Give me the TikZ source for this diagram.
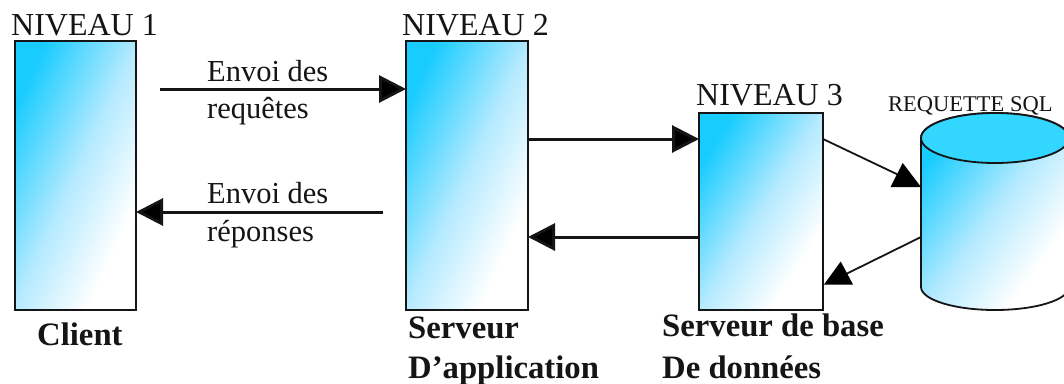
\documentclass[tikz,border=0pt]{standalone}
\usepackage{fontspec}
\setmainfont{Liberation Serif}
\usetikzlibrary{arrows.meta}
\definecolor{gblue}{HTML}{18CCFF}
\definecolor{gmid}{HTML}{B5EAFF}
\definecolor{gtop}{HTML}{33D6FF}
\definecolor{ink}{HTML}{151515}
\pgfdeclareverticalshading{diagblue}{100bp}{color(0bp)=(white); color(30bp)=(white); color(50bp)=(gmid); color(75bp)=(gblue); color(100bp)=(gblue)}
\tikzset{
  tier/.style={draw=ink,line width=1.8pt,inner sep=0pt,outer sep=0pt,anchor=north west,shading=diagblue},
  niv/.style={inner sep=0pt,anchor=base west,text=ink,font=\fontsize{32}{32}\selectfont},
  txt/.style={inner sep=0pt,anchor=base west,text=ink,font=\fontsize{30.5}{30.5}\selectfont},
  small/.style={inner sep=0pt,anchor=base west,text=ink,font=\fontsize{22.5}{22.5}\selectfont},
  lab/.style={inner sep=0pt,anchor=base west,text=ink,font=\fontsize{32.7}{32.7}\selectfont\bfseries},
  conn/.style={draw=ink,line width=3pt,-{Triangle[length=27pt,width=27pt,fill=black]}},
  thin conn/.style={draw=ink,line width=1.8pt},
  head/.style={fill=black,draw=none}
}
\begin{document}
\begin{tikzpicture}[x=1pt,y=-1pt]
\useasboundingbox (0,0) rectangle (1064,383);
\clip (0,0) rectangle (1064,383);
\fill[white] (0,0) rectangle (1064,383);
% tiers
\node[tier,minimum width=121pt,minimum height=269pt,shading angle=65] (b1) at (15,41) {};
\node[tier,minimum width=122pt,minimum height=269pt,shading angle=65] (b2) at (406,41) {};
\node[tier,minimum width=124pt,minimum height=197pt,shading angle=58] (b3) at (699,113) {};
% database
\path[shading=diagblue,shading angle=54,draw=ink,line width=1.8pt]
  (921,138) -- (921,287) arc[start angle=180,end angle=0,x radius=74,y radius=23]
  -- (1069,138) arc[start angle=0,end angle=-180,x radius=74,y radius=25] -- cycle;
\draw[ink,line width=1.8pt,fill=gtop] (995,138) ellipse[x radius=74,y radius=25];
% labels
\node[niv] (n1) at (11,35) {NIVEAU 1};
\node[niv] (n2) at (402,35) {NIVEAU 2};
\node[niv] (n3) at (696,105) {NIVEAU 3};
\node[small] (sql) at (888,111) {REQUETTE SQL};
\node[txt] (e1) at (207,81) {Envoi des};
\node[txt] (e2) at (207,118) {requêtes};
\node[txt] (e3) at (207,203) {Envoi des};
\node[txt] (e4) at (207,241) {réponses};
\node[lab] (c1) at (37,345) {Client};
\node[lab] (c2) at (408,338) {Serveur};
\node[lab] (c3) at (408,378) {D’application};
\node[lab] (c4) at (662,336) {Serveur de base};
\node[lab] (c5) at (662,378) {De données};
% connectors
\coordinate (s1) at (160,89);
\coordinate (s2) at (383,212);
\coordinate (y3) at (0,139);
\coordinate (y4) at (0,237);
\draw[conn] (s1) -- (b2.west |- s1);
\draw[conn] (s2) -- (b1.east |- s2);
\draw[conn] (b2.east |- y3) -- (b3.west |- y3);
\draw[conn] (b3.west |- y4) -- (b2.east |- y4);
\coordinate (d5) at (921,187);
\coordinate (t5) at (905,178);
\coordinate (d6) at (921,237);
\coordinate (t6) at (842,276);
\draw[thin conn] (b3.east |- y3) -- (t5);
\fill[head] (890.5,187) -- (d5) -- (902.7,163) -- cycle;
\draw[thin conn] (d6) -- (t6);
\fill[head] (824,284.5) -- (853,284.5) -- (840.7,261.5) -- cycle;
\end{tikzpicture}
\end{document}
